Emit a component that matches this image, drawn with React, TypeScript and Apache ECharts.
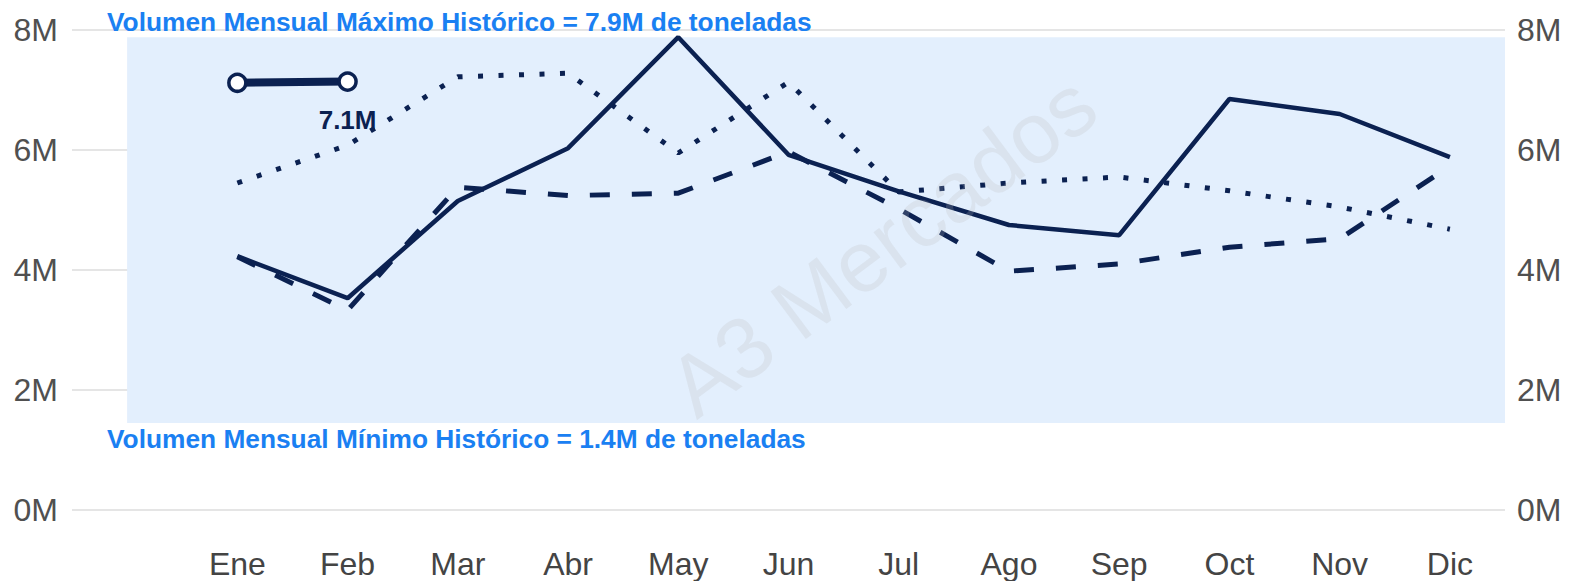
import React, { useEffect, useRef } from "react";
import * as echarts from "echarts";

const months = ["Ene", "Feb", "Mar", "Abr", "May", "Jun", "Jul", "Ago", "Sep", "Oct", "Nov", "Dic"];
const serieSolida = [4.23, 3.53, 5.15, 6.03, 7.88, 5.92, 5.31, 4.75, 4.58, 6.85, 6.6, 5.88];
const serieDiscontinua = [4.22, 3.33, 5.38, 5.24, 5.28, 5.97, 5.02, 3.98, 4.1, 4.38, 4.52, 5.73];
const seriePunteada = [5.45, 6.08, 7.22, 7.28, 5.95, 7.13, 5.3, 5.45, 5.55, 5.32, 5.05, 4.68];
const serieActual = [7.12, 7.14];
const yTicks = [0, 2, 4, 6, 8];
const maxHistorico = 7.88;
const minHistorico = 1.45;

const NAVY = "#0b2151";
const BLUE_TEXT = "#1a80f2";
const FONT = "'Liberation Sans', Arial, sans-serif";

export default function App() {
  const ref = useRef<HTMLDivElement>(null);

  useEffect(() => {
    document.body.style.margin = "0";
    if (!ref.current) return;
    const chart = echarts.init(ref.current, undefined, { renderer: "svg" });

    const categories = ["", ...months];
    const pad = (arr: number[]) => [null, ...arr, ...new Array(12 - arr.length).fill(null)];

    const actualData: any[] = pad(serieActual).map((v, i) => {
      if (v === null) return null;
      const isLast = i === serieActual.length;
      return isLast
        ? {
            value: v,
            label: {
              show: true,
              position: "bottom",
              distance: 15,
              formatter: (p: any) => p.value.toFixed(1) + "M",
              fontSize: 26,
              fontWeight: "bold",
              color: NAVY,
              fontFamily: FONT,
            },
          }
        : v;
    });

    const yAxisBase = {
      type: "value",
      min: yTicks[0],
      max: yTicks[yTicks.length - 1],
      interval: yTicks[1] - yTicks[0],
      axisLine: { show: false },
      axisTick: { show: false },
      axisLabel: {
        formatter: (v: number) => v + "M",
        fontSize: 32,
        color: "#505050",
        fontFamily: FONT,
      },
    };

    chart.setOption({
      animation: false,
      backgroundColor: "#ffffff",
      grid: { left: 72, right: 64, top: 30, bottom: 71, containLabel: false },
      xAxis: {
        type: "category",
        data: categories,
        boundaryGap: true,
        axisLine: { show: false },
        axisTick: { show: false },
        axisLabel: {
          fontSize: 32,
          color: "#444444",
          fontFamily: FONT,
          margin: 38,
          interval: 0,
        },
      },
      yAxis: [
        {
          ...yAxisBase,
          position: "left",
          axisLabel: { ...yAxisBase.axisLabel, margin: 14 },
          splitLine: { show: true, lineStyle: { color: "#dcdcdc", width: 1.5 } },
        },
        {
          ...yAxisBase,
          position: "right",
          axisLabel: { ...yAxisBase.axisLabel, margin: 12 },
          splitLine: { show: false },
        },
      ],
      graphic: [
        {
          type: "text",
          left: 107,
          top: 9,
          z: 10,
          style: {
            text: `Volumen Mensual Máximo Histórico = ${maxHistorico.toFixed(1)}M de toneladas`,
            fontSize: 26.3,
            fontWeight: "bold",
            fill: BLUE_TEXT,
            fontFamily: FONT,
          },
        },
        {
          type: "text",
          left: 107,
          top: 426,
          z: 10,
          style: {
            text: `Volumen Mensual Mínimo Histórico = ${minHistorico.toFixed(1)}M de toneladas`,
            fontSize: 26.3,
            fontWeight: "bold",
            fill: BLUE_TEXT,
            fontFamily: FONT,
          },
        },
        {
          type: "text",
          x: 882,
          y: 245,
          rotation: 0.64,
          z: 100,
          silent: true,
          style: {
            text: "A3 Mercados",
            fontSize: 86,
            fill: "rgba(185,185,185,0.22)",
            fontFamily: FONT,
            align: "center",
            verticalAlign: "middle",
          },
        },
      ],
      series: [
        {
          name: "Punteada",
          type: "line",
          data: pad(seriePunteada),
          symbol: "none",
          lineStyle: { color: NAVY, width: 5, type: [5, 15.5], cap: "butt" },
          z: 3,
          markArea: {
            silent: true,
            itemStyle: { color: "#e3effd" },
            data: [[{ xAxis: 0, yAxis: minHistorico }, { yAxis: maxHistorico }]],
          },
        },
        {
          name: "Discontinua",
          type: "line",
          data: pad(serieDiscontinua),
          symbol: "none",
          lineStyle: { color: NAVY, width: 5, type: [20, 22], cap: "butt" },
          z: 3,
        },
        {
          name: "Sólida",
          type: "line",
          data: pad(serieSolida),
          symbol: "none",
          lineStyle: { color: NAVY, width: 4.5 },
          z: 4,
        },
        {
          name: "Actual",
          type: "line",
          data: actualData,
          symbol: "circle",
          symbolSize: 17,
          showAllSymbol: true,
          itemStyle: { color: "#ffffff", borderColor: NAVY, borderWidth: 3.5 },
          lineStyle: { color: NAVY, width: 8 },
          z: 5,
        },
      ],
    });

    return () => chart.dispose();
  }, []);

  return <div ref={ref} style={{ width: 1569, height: 581 }} />;
}
